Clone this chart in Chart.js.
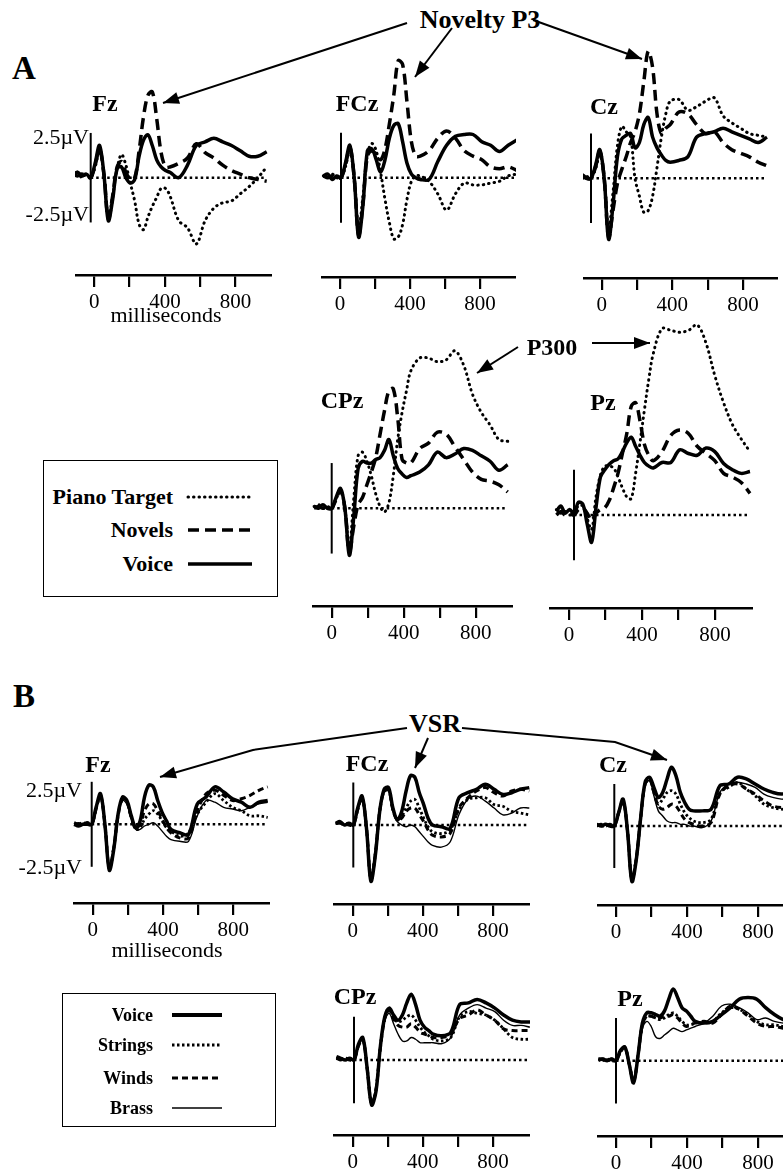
<!DOCTYPE html>
<html lang="en">
<head>
<meta charset="UTF-8">
<title>Novelty P3 and VSR waveforms</title>
<style>
    body { margin: 0; background: #fff; }
    #page {
        position: relative;
        width: 783px;
        height: 1171px;
        overflow: hidden;
        font-family: "Liberation Serif", "Times New Roman", serif;
        color: #000;
    }
    .txt { position: absolute; line-height: 1; white-space: nowrap; transform: translate(-50%, -50%); }
    .right { transform: translate(-100%, -50%); }
    .bold { font-weight: bold; }
    .legend { position: absolute; border: 1.5px solid #000; box-sizing: border-box; }
    #arrows { position: absolute; left: 0; top: 0; }
</style>
</head>
<body>
<div id="page">
    <svg id="arrows" width="783" height="1171"></svg>
</div>

<script src="https://cdn.jsdelivr.net/npm/chart.js"></script>
<script>
// time points (ms) shared by every waveform
const times = [-100,-75,-50,-25,0,25,50,75,100,125,150,175,200,225,250,275,300,325,350,375,400,425,450,500,550,600,650,700,750,800,850,900,950,1000];
const tickValues = [0, 200, 400, 600, 800];
const labelledTicks = [0, 400, 800];
const scaleBar = [-2.5, 2.5];   // µV calibration bar

// ---- A: Piano Target / Novels / Voice (µV) ----
const aFzPiano  = [0.1,0.3,0.0,0.2, 0.0,0.6,1.5,0.2, -2.2,-1.0,0.5,1.3, 0.7,-0.3,-1.3,-2.6, -2.9,-2.2,-1.6,-1.1, -0.6,-0.6,-1.0, -2.4,-2.8,-3.7,-2.4,-1.7,-1.4,-1.3,-0.9,-0.5,0.0,0.6];
const aFzNovel  = [0.2,0.1,0.2,0.1, 0.0,0.7,1.6,0.2, -2.3,-1.0,0.6,0.9, 0.3,-0.1,0.0,1.5, 3.4,4.6,4.8,3.3, 1.4,0.6,0.6, 0.8,1.1,1.9,1.4,1.1,0.7,0.4,0.2,0.0,-0.1,-0.2];
const aFzVoice  = [0.2,0.3,0.1,0.2, 0.0,0.8,1.8,0.2, -2.4,-1.2,0.5,0.6, 0.0,-0.3,-0.1,1.2, 2.1,2.4,1.8,1.0, 0.6,0.4,0.3, 0.0,0.7,1.8,2.0,2.2,2.0,1.8,1.5,1.2,1.2,1.45];

const aFCzPiano = [0.1,0.0,0.2,0.0, 0,0.6,1.5,0.0, -2.8,-1.0,1.3,1.9, 1.5,0.3,-1.2,-2.5, -3.4,-3.3,-2.6,-1.2, -0.2,0.1,0.1, -0.2,-0.9,-1.8,-0.9,-0.3,-0.4,-0.4,-0.3,-0.2,0.1,0.2];
const aFCzNovel = [0.1,0.0,0.1,0.0, 0,0.7,1.7,0.0, -3.2,-1.4,1.2,1.5, 1.3,1.0,1.6,3.0, 4.6,6.5,6.3,4.2, 2.0,1.2,1.2, 1.5,2.2,2.6,2.2,1.5,1.2,1.0,0.6,0.5,0.6,0.4];
const aFCzVoice = [0.1,0.2,-0.1,0.1, 0,0.8,1.8,0.0, -3.3,-1.5,1.5,1.6, 1.0,0.3,1.0,2.2, 2.9,3.0,2.0,0.8, 0.2,0.0,-0.1, -0.1,0.9,1.8,2.3,2.4,2.4,2.0,1.8,1.45,1.8,2.1];

const aCzPiano  = [0.1,0.2,0.0,0.1, 0,0.5,1.3,0.0, -2.8,-0.8,1.8,2.9, 2.6,2.3,0.0,-1.0, -1.9,-1.8,-1.0,0.6, 2.3,3.6,4.3, 4.4,3.8,4.0,4.3,4.5,3.5,3.1,2.8,2.5,2.4,2.3];
const aCzNovel  = [0.1,0.1,0.2,0.0, 0,0.6,1.5,0.0, -3.3,-1.8,-0.3,0.5, 1.2,2.0,2.6,3.6, 5.4,7.1,6.2,3.6, 2.5,2.8,3.0, 3.7,3.6,3.0,2.5,2.6,2.0,1.6,1.4,1.2,0.9,0.7];
const aCzVoice  = [0.1,0.2,0.1,0.0, 0,0.7,1.6,0.0, -3.4,-1.5,1.2,2.2, 2.4,2.5,1.7,2.0, 3.0,3.4,2.3,1.7, 1.3,1.0,0.9, 1.0,1.2,2.3,2.5,2.6,2.8,2.6,2.4,2.2,2.0,2.3];

const aCPzPiano = [0.1,0.2,0.0,0.1, 0,0.5,1.0,0.0, -2.2,0.5,2.9,3.1, 2.6,1.8,0.8,0.1, -0.2,0.3,1.8,3.8, 5.3,6.5,7.6, 8.3,8.3,8.1,8.2,8.7,7.9,6.3,5.3,4.6,3.8,3.7];
const aCPzNovel = [0.0,0.1,0.0,0.1, 0,0.5,1.0,0.0, -2.4,-1.0,0.2,0.6, 1.3,2.0,2.8,4.1, 5.4,6.5,6.6,5.0, 2.7,2.5,2.5, 3.3,3.6,4.2,4.1,3.4,2.7,2.0,1.6,1.5,1.3,0.9];
const aCPzVoice = [0.1,0.0,0.2,0.0, 0,0.6,1.1,0.0, -2.6,-0.5,2.2,2.6, 2.5,2.5,2.7,2.8, 3.2,3.8,2.9,2.2, 1.9,1.7,1.8, 2.0,2.4,3.1,2.8,3.0,3.3,3.2,2.9,2.6,2.1,2.4];

const aPzPiano  = [0.3,0.1,0.2,0.0, 0.1,0.5,0.5,-0.2, -0.8,1.0,2.2,2.7, 2.7,2.6,2.1,1.5, 1.0,0.9,2.3,4.0, 5.8,7.5,8.9, 10.3,10.2,10.1,10.2,10.5,9.5,7.7,6.2,5.0,4.2,3.5];
const aPzNovel  = [0.0,0.2,0.0,0.1, 0,0.3,0.4,0.1, -0.3,0.1,0.3,0.4, 0.8,1.5,2.3,3.4, 4.5,6.0,6.2,5.2, 3.9,3.3,3.0, 3.5,4.4,4.7,4.5,3.8,3.4,3.0,2.3,2.1,1.8,1.2];
const aPzVoice  = [0.2,0.5,0.1,0.3, 0.1,0.7,0.6,-0.5, -1.5,0.4,2.1,2.5, 2.8,3.0,3.1,3.5, 4.0,4.3,3.8,3.3, 2.9,2.7,2.6, 2.9,2.9,3.6,3.4,3.3,3.7,3.5,2.85,2.5,2.3,2.4];

// ---- B: Voice / Strings / Winds / Brass (µV) ----
const bFzVoice   = [0.0,-0.1,0.0,0.0, 0.0,1.0,1.8,0.0, -2.7,-1.5,0.6,1.6, 1.4,0.5,-0.2,0.2, 1.6,2.3,2.2,1.4, 0.7,0.2,-0.3, -0.5,-0.6,1.2,1.6,2.2,1.9,1.5,1.3,1.0,1.3,1.4];
const bFzStrings = [0.0,0.0,0.1,0.0, 0.0,0.9,1.7,0.0, -2.6,-1.4,0.6,1.5, 1.3,0.4,-0.3,-0.2, 0.3,0.6,0.8,0.6, 0.2,-0.2,-0.4, -0.7,-0.5,0.6,1.3,1.8,1.4,1.0,0.8,0.5,0.5,0.4];
const bFzWinds   = [0.1,0.0,0.0,0.1, 0.0,0.9,1.7,0.0, -2.6,-1.4,0.5,1.5, 1.3,0.4,-0.2,0.0, 0.8,1.2,1.2,0.8, 0.3,-0.2,-0.5, -0.8,-0.8,0.8,1.8,2.0,1.7,1.4,1.5,1.7,2.0,2.2];
const bFzBrass   = [0.0,0.1,0.0,0.0, 0.0,0.9,1.7,0.0, -2.6,-1.4,0.5,1.4, 1.2,0.3,-0.3,-0.3, -0.1,0.0,0.1,-0.1, -0.4,-0.7,-0.9, -1.0,-1.0,0.5,1.4,1.3,1.0,0.9,0.8,1.0,1.2,1.3];

const bFCzVoice   = [0.1,0.2,0.0,0.1, 0,1.0,1.7,-0.2, -3.3,-1.8,0.8,2.1, 2.2,1.0,0.3,0.8, 2.0,2.9,2.8,1.9, 1.2,0.4,0.0, -0.1,-0.2,1.6,1.9,2.1,2.4,2.1,1.8,1.9,2.1,2.2];
const bFCzStrings = [0.1,0.1,0.0,0.1, 0,0.9,1.6,-0.2, -3.2,-1.7,0.8,2.0, 2.1,0.9,0.3,0.5, 1.0,1.4,1.5,1.0, 0.4,-0.1,-0.4, -0.5,-0.3,0.9,1.5,1.6,1.6,1.2,1.1,0.8,0.7,0.6];
const bFCzWinds   = [0.1,0.1,0.1,0.0, 0,0.9,1.6,-0.2, -3.2,-1.7,0.8,2.0, 2.1,0.9,0.3,0.4, 0.8,1.0,1.0,0.6, 0.2,-0.3,-0.6, -0.7,-0.5,1.0,1.6,2.0,2.2,1.9,1.7,2.0,2.1,2.0];
const bFCzBrass   = [0.1,0.1,0.0,0.1, 0,0.9,1.6,-0.2, -3.1,-1.7,0.7,1.9, 2.0,0.8,0.2,0.0, -0.1,0.0,-0.1,-0.4, -0.7,-1.0,-1.2, -1.3,-1.0,0.6,1.5,1.7,1.4,1.0,0.6,0.7,1.0,1.0];

const bCzVoice   = [0.1,0.0,0.1,0.0, 0,0.8,1.6,-0.3, -3.3,-2.0,0.5,2.6, 2.9,2.3,1.7,2.0, 2.8,3.5,3.0,2.0, 1.4,1.0,0.9, 0.9,1.0,2.4,2.5,2.9,2.8,2.5,2.2,2.0,1.9,2.0];
const bCzStrings = [0.1,0.0,0.0,0.1, 0,0.8,1.5,-0.3, -3.2,-1.9,0.5,2.5, 2.8,2.0,1.3,1.6, 2.0,2.1,1.9,1.3, 0.8,0.5,0.3, 0.2,0.4,2.0,2.3,2.6,2.2,1.8,1.3,1.1,1.0,1.0];
const bCzWinds   = [0.0,0.1,0.0,0.1, 0,0.8,1.5,-0.3, -3.2,-1.9,0.5,2.5, 2.8,2.0,1.2,1.0, 1.1,1.3,1.2,0.8, 0.4,0.2,0.1, 0.0,0.2,1.9,2.4,2.5,2.2,1.9,1.5,1.2,1.1,1.1];
const bCzBrass   = [0.1,0.0,0.1,0.0, 0,0.8,1.5,-0.3, -3.1,-1.9,0.4,2.4, 2.7,1.8,0.9,0.6, 0.3,0.2,0.2,0.1, 0.1,0.0,0.0, -0.1,0.3,2.0,2.5,2.6,2.5,2.3,1.9,1.7,1.6,1.6];

const bCPzVoice   = [0.2,0.1,0.0,0.1, 0,0.9,1.3,-0.5, -2.6,-1.8,0.8,2.5, 3.0,2.6,2.3,2.6, 3.3,3.8,3.2,2.3, 1.9,1.7,1.5, 1.4,1.6,3.2,3.3,3.5,3.3,3.0,2.6,2.3,2.2,2.2];
const bCPzStrings = [0.1,0.1,0.0,0.1, 0,0.8,1.2,-0.5, -2.5,-1.7,0.8,2.4, 2.9,2.4,2.2,2.3, 2.5,2.6,2.3,1.9, 1.6,1.4,1.2, 1.1,1.3,2.5,2.8,2.7,2.6,2.3,1.8,1.3,1.2,1.2];
const bCPzWinds   = [0.1,0.0,0.1,0.0, 0,0.8,1.2,-0.5, -2.5,-1.7,0.7,2.4, 2.9,2.4,2.0,1.9, 1.9,2.1,1.9,1.6, 1.5,1.4,1.3, 1.3,1.5,2.4,2.6,2.9,2.6,2.3,1.8,1.7,1.7,1.7];
const bCPzBrass   = [0.1,0.1,0.0,0.1, 0,0.8,1.2,-0.5, -2.5,-1.7,0.7,2.3, 2.7,2.1,1.5,1.1, 1.1,1.3,1.2,1.0, 1.0,1.0,1.0, 0.95,1.3,2.6,3.0,3.2,3.0,2.8,2.3,2.0,2.0,1.9];

const bPzVoice   = [0.1,0.1,0.0,0.1, 0,0.6,0.8,-0.2, -1.3,0.3,2.2,2.8, 2.8,2.7,2.6,2.9, 3.6,4.2,3.7,3.1, 2.9,2.6,2.3, 2.2,2.3,2.7,3.1,3.6,3.7,3.6,3.1,2.7,2.4,2.3];
const bPzStrings = [0.1,0.0,0.1,0.0, 0,0.5,0.8,-0.2, -1.2,0.3,2.1,2.6, 2.6,2.5,2.4,2.5, 2.7,2.8,2.6,2.3, 2.1,2.1,2.2, 2.2,2.3,2.8,3.1,3.0,2.7,2.3,2.1,2.1,2.0,1.9];
const bPzWinds   = [0.0,0.1,0.0,0.1, 0,0.5,0.8,-0.2, -1.2,0.3,2.1,2.6, 2.6,2.5,2.5,2.6, 2.6,2.7,2.5,2.2, 2.0,2.1,2.2, 2.3,2.2,2.7,3.2,3.0,2.6,2.2,2.0,2.0,1.9,1.8];
const bPzBrass   = [0.1,0.0,0.1,0.0, 0,0.5,0.8,-0.2, -1.2,0.2,1.9,2.3, 2.0,1.4,1.3,1.5, 1.7,1.9,1.8,1.7, 1.8,1.9,2.0, 2.2,2.6,3.2,3.3,3.1,2.8,2.4,2.5,2.3,2.2,2.2];

// line styles
const styles = {
    piano:   { borderWidth: 3, borderDash: [0.5, 5], borderCapStyle: 'round' },
    novel:   { borderWidth: 3.5, borderDash: [11, 6] },
    voice:   { borderWidth: 3.5 },
    strings: { borderWidth: 2.8, borderDash: [2.5, 2.5] },
    winds:   { borderWidth: 3, borderDash: [6, 4] },
    brass:   { borderWidth: 1.4 },
    zero:    { borderWidth: 2.5, borderDash: [2.5, 3], tension: 0 },
    bar:     { borderWidth: 2, tension: 0 }
};

const FONT = '"Liberation Serif", "Times New Roman", serif';
const PX_MS = 0.176;   // px per ms of the traces
const page = document.getElementById('page');

// panel geometry in page pixels
const panels = [
    { axisL: 75,  axisR: 272, axisY: 275, top: 40,  bar: 90.7,  tick0: 94.3,  tickPx: 0.1765, base: 177.7, pxUV: 17.9,
      series: [['piano', aFzPiano], ['novel', aFzNovel], ['voice', aFzVoice]] },
    { axisL: 321, axisR: 516, axisY: 277, top: 40,  bar: 341,   tick0: 340,   tickPx: 0.175,  base: 177.7, pxUV: 18,
      series: [['piano', aFCzPiano], ['novel', aFCzNovel], ['voice', aFCzVoice]] },
    { axisL: 583, axisR: 778, axisY: 278, top: 40,  bar: 591,   tick0: 601.7, tickPx: 0.1766, base: 178.3, pxUV: 17.9,
      series: [['piano', aCzPiano], ['novel', aCzNovel], ['voice', aCzVoice]] },
    { axisL: 312, axisR: 513, axisY: 606, top: 310, bar: 331.7, tick0: 331.7, tickPx: 0.18,   base: 508.3, pxUV: 18.1,
      series: [['piano', aCPzPiano], ['novel', aCPzNovel], ['voice', aCPzVoice]] },
    { axisL: 549, axisR: 753, axisY: 608, top: 310, bar: 574,   tick0: 569,   tickPx: 0.1825, base: 515,   pxUV: 18.1,
      series: [['piano', aPzPiano], ['novel', aPzNovel], ['voice', aPzVoice]] },

    { axisL: 73,  axisR: 270, axisY: 903, top: 740, bar: 91.7,  tick0: 92.7,  tickPx: 0.1758, base: 824.3, pxUV: 17,
      series: [['strings', bFzStrings], ['winds', bFzWinds], ['brass', bFzBrass], ['voice', bFzVoice]] },
    { axisL: 333, axisR: 530, axisY: 904, top: 740, bar: 353.3, tick0: 352.7, tickPx: 0.1754, base: 825,   pxUV: 17,
      series: [['strings', bFCzStrings], ['winds', bFCzWinds], ['brass', bFCzBrass], ['voice', bFCzVoice]] },
    { axisL: 597, axisR: 800, axisY: 905, top: 740, bar: 614.3, tick0: 616,   tickPx: 0.1775, base: 826,   pxUV: 16.8,
      series: [['strings', bCzStrings], ['winds', bCzWinds], ['brass', bCzBrass], ['voice', bCzVoice]] },
    { axisL: 333, axisR: 530, axisY: 1135, top: 970, bar: 354,  tick0: 352.7, tickPx: 0.1754, base: 1060,  pxUV: 17.3,
      series: [['strings', bCPzStrings], ['winds', bCPzWinds], ['brass', bCPzBrass], ['voice', bCPzVoice]] },
    { axisL: 597, axisR: 800, axisY: 1136, top: 970, bar: 616,  tick0: 616,   tickPx: 0.1775, base: 1060.7, pxUV: 17.1,
      series: [['strings', bPzStrings], ['winds', bPzWinds], ['brass', bPzBrass], ['voice', bPzVoice]] }
];

const AXIS_H = 60;

function drawPanel(p) {
    const w = p.axisR - p.axisL;
    const h = p.axisY - p.top + AXIS_H;
    const c = document.createElement('canvas');
    c.width = w; c.height = h;
    c.style.cssText = `position:absolute;left:${p.axisL}px;top:${p.top}px;width:${w}px;height:${h}px`;
    page.appendChild(c);

    const datasets = p.series.map(([kind, vals]) => Object.assign({
        data: times.map((t, i) => ({ x: t, y: vals[i] }))
    }, styles[kind]));
    datasets.push(Object.assign({ data: [{ x: 0, y: 0 }, { x: times[times.length - 1], y: 0 }] }, styles.zero));
    datasets.push(Object.assign({ data: scaleBar.map(v => ({ x: 0, y: v })) }, styles.bar));

    new Chart(c, {
        type: 'line',
        data: { datasets },
        options: {
            responsive: false,
            animation: false,
            events: [],
            layout: { padding: 0 },
            elements: {
                point: { radius: 0 },
                line: { borderColor: '#000', tension: 0.35, fill: false }
            },
            plugins: { legend: { display: false }, tooltip: { enabled: false } },
            scales: {
                x: { type: 'linear', display: false,
                     min: (p.axisL - p.bar) / PX_MS, max: (p.axisR - p.bar) / PX_MS },
                xa: {
                    type: 'linear', position: 'bottom',
                    min: (p.axisL - p.tick0) / p.tickPx, max: (p.axisR - p.tick0) / p.tickPx,
                    afterBuildTicks: s => { s.ticks = tickValues.map(v => ({ value: v })); },
                    afterFit: s => { s.height = AXIS_H; },
                    border: { display: true, color: '#000', width: 2.5 },
                    grid: { drawOnChartArea: false, drawTicks: true, tickLength: 12, lineWidth: 2.2, color: '#000' },
                    ticks: {
                        color: '#000', padding: 3, autoSkip: false, maxRotation: 0,
                        font: { family: FONT, size: 21 },
                        callback: v => labelledTicks.includes(v) ? String(v) : ''
                    }
                },
                y: { display: false,
                     min: -(p.axisY - p.base) / p.pxUV, max: (p.base - p.top) / p.pxUV }
            }
        }
    });
}

panels.forEach(drawPanel);

// text
function text(str, x, y, size, bold, right) {
    const d = document.createElement('div');
    d.className = 'txt' + (bold ? ' bold' : '') + (right ? ' right' : '');
    d.style.left = x + 'px';
    d.style.top = y + 'px';
    d.style.fontSize = size + 'px';
    d.textContent = str;
    page.appendChild(d);
}

text('A', 24, 68, 33, true);
text('Novelty P3', 480, 20, 26, true);
text('Fz', 105, 103, 24, true);
text('FCz', 357, 103, 24, true);
text('Cz', 604, 106, 24, true);
text('2.5\u00b5V', 89, 137, 22, false, true);
text('-2.5\u00b5V', 89, 214, 22, false, true);
text('milliseconds', 166, 315, 22);
text('P300', 552, 347, 24, true);
text('CPz', 342, 400, 24, true);
text('Pz', 603, 402, 24, true);

text('B', 24, 696, 33, true);
text('VSR', 435, 724, 26, true);
text('Fz', 98, 764, 24, true);
text('FCz', 367, 763, 24, true);
text('Cz', 613, 764, 24, true);
text('CPz', 355, 996, 24, true);
text('Pz', 630, 998, 24, true);
text('2.5\u00b5V', 82, 790, 22, false, true);
text('-2.5\u00b5V', 82, 867, 22, false, true);
text('milliseconds', 167, 950, 22);

// legends
function box(x, y, w, h) {
    const d = document.createElement('div');
    d.className = 'legend';
    d.style.cssText += `left:${x}px;top:${y}px;width:${w}px;height:${h}px`;
    page.appendChild(d);
}
const svg = document.getElementById('arrows');
const NS = 'http://www.w3.org/2000/svg';
function sample(x1, x2, y, st) {
    const l = document.createElementNS(NS, 'line');
    l.setAttribute('x1', x1); l.setAttribute('x2', x2);
    l.setAttribute('y1', y); l.setAttribute('y2', y);
    l.setAttribute('stroke', '#000');
    l.setAttribute('stroke-width', st.borderWidth);
    if (st.borderDash) l.setAttribute('stroke-dasharray', st.borderDash.join(' '));
    if (st.borderCapStyle) l.setAttribute('stroke-linecap', st.borderCapStyle);
    svg.appendChild(l);
}

box(43, 460, 235, 137);
text('Piano Target', 173, 497, 22, true, true); sample(188, 252, 497, styles.piano);
text('Novels', 173, 530, 22, true, true);       sample(188, 252, 530, styles.novel);
text('Voice', 173, 564, 22, true, true);        sample(188, 252, 564, styles.voice);

box(62, 993, 214, 134);
text('Voice', 153, 1015, 18, true, true);   sample(172, 222, 1015, { borderWidth: 4 });
text('Strings', 153, 1045, 18, true, true); sample(172, 222, 1045, styles.strings);
text('Winds', 153, 1078, 18, true, true);   sample(172, 222, 1078, styles.winds);
text('Brass', 153, 1108, 18, true, true);   sample(172, 222, 1108, styles.brass);

// annotation arrows
function arrow(pts) {
    const pl = document.createElementNS(NS, 'polyline');
    pl.setAttribute('points', pts.map(p => p.join(',')).join(' '));
    pl.setAttribute('fill', 'none');
    pl.setAttribute('stroke', '#000');
    pl.setAttribute('stroke-width', 2);
    svg.appendChild(pl);
    const [x1, y1] = pts[pts.length - 2], [x2, y2] = pts[pts.length - 1];
    const a = Math.atan2(y2 - y1, x2 - x1), L = 16, W = 6;
    const bx = x2 - L * Math.cos(a), by = y2 - L * Math.sin(a);
    const head = document.createElementNS(NS, 'polygon');
    head.setAttribute('points', [
        [x2, y2],
        [bx + W * Math.sin(a), by - W * Math.cos(a)],
        [bx - W * Math.sin(a), by + W * Math.cos(a)]
    ].map(p => p.join(',')).join(' '));
    svg.appendChild(head);
}
arrow([[407, 23], [163, 103]]);
arrow([[452, 28], [415, 77]]);
arrow([[533, 20], [642, 59]]);
arrow([[518, 347], [477, 373]]);
arrow([[592, 343], [650, 343]]);
arrow([[407, 728], [253, 750], [160, 777]]);
arrow([[428, 738], [415, 768]]);
arrow([[462, 728], [615, 742], [667, 760]]);
</script>
</body>
</html>
